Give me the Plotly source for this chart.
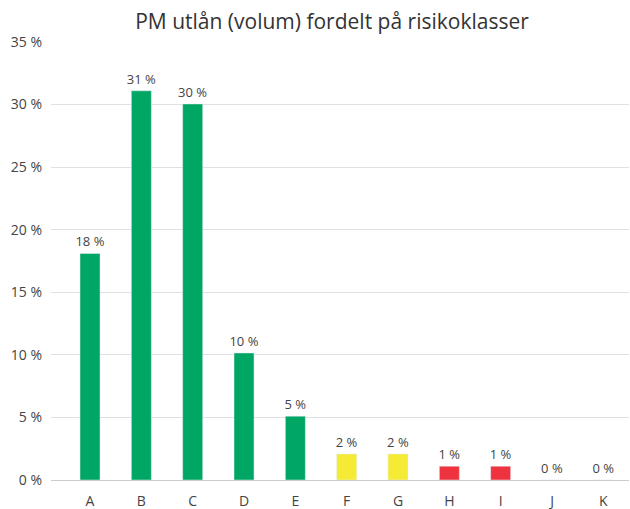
import plotly.graph_objects as go

categories = ["A", "B", "C", "D", "E", "F", "G", "H", "I", "J", "K"]
values = [18.1, 31.1, 30.05, 10.15, 5.1, 2.08, 2.08, 1.1, 1.1, 0, 0]
labels = ["18 %", "31 %", "30 %", "10 %", "5 %", "2 %", "2 %", "1 %", "1 %", "0 %", "0 %"]
colors = ["#00A664"] * 5 + ["#F5EB35"] * 2 + ["#EE333E"] * 2 + ["#00A664"] * 2
tick_vals = [0, 5, 10, 15, 20, 25, 30, 35]
tick_text = ["0 %", "5 %", "10 %", "15 %", "20 %", "25 %", "30 %", "35 %"]

fig = go.Figure(go.Bar(
    x=categories, y=values, marker_color=colors, text=labels,
    textposition="outside", cliponaxis=False, constraintext="none",
    textfont=dict(size=13, color="#444444"), hoverinfo="skip",
))
fig.update_layout(
    width=630, height=509,
    margin=dict(l=51, r=1, t=42, b=29, autoexpand=False),
    paper_bgcolor="white", plot_bgcolor="white",
    font=dict(family="Open Sans, sans-serif", color="#444444"),
    title=dict(text="PM utlån (volum) fordelt på risikoklasser", x=0.527, xanchor="center",
               xref="container", yref="container",
               y=0.958, yanchor="middle", font=dict(size=21, color="#333333")),
    bargap=0.61, showlegend=False,
)
fig.update_yaxes(range=[0, 35], tickvals=tick_vals, ticktext=tick_text,
                 showgrid=True, gridcolor="#E0E0E0", gridwidth=1,
                 zeroline=True, zerolinecolor="#CCCCCC", zerolinewidth=1,
                 tickfont=dict(size=14, color="#444444"), ticks="",
                 ticklabelstandoff=8, automargin=False)
fig.update_xaxes(range=[-0.76, 10.5], tickfont=dict(size=14, color="#444444"),
                 showline=False, ticks="", automargin=False, ticklabelstandoff=11)
fig.write_html("out.html", config={"displayModeBar": False},
               post_script="document.body.style.margin='0';")
